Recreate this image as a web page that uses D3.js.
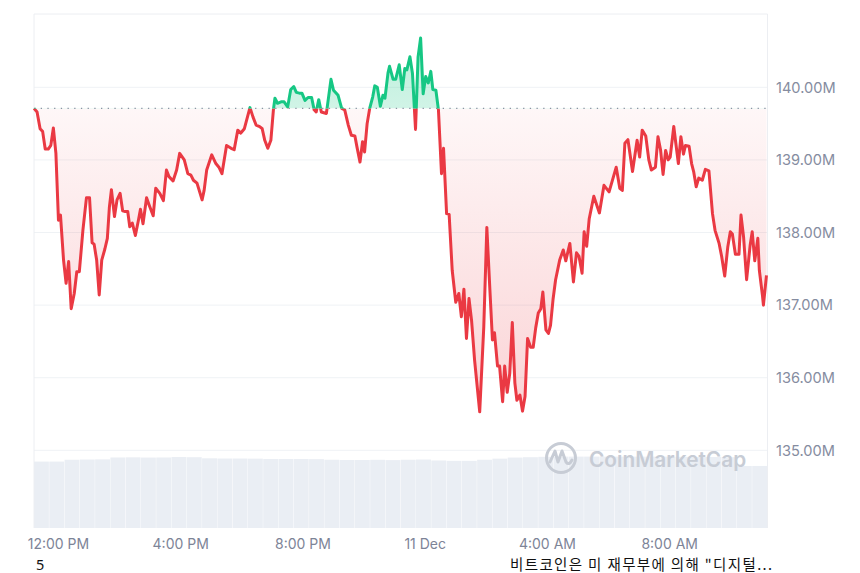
<!DOCTYPE html>
<html><head><meta charset="utf-8">
<script src="https://cdn.jsdelivr.net/npm/d3@7"></script>
<style>
body{margin:0;background:#fff;}
svg{display:block;font-family:Inter,"Noto Sans",sans-serif;}
</style>
</head><body>
<svg id="chart" width="860" height="573"></svg>
<script>
// ---------- DATA ----------
// [minutes after 10 Dec 11:13, market cap in millions]
const pricePoints = [
[0,139.71],[6,139.66],[12,139.43],[17,139.39],[22,139.15],[28,139.15],[33,139.20],[38,139.44],[43,139.09],[48,138.17],
[52,138.24],[58,137.62],[63,137.30],[68,137.60],[73,136.95],[79,137.16],[84,137.46],[89,137.46],[96,138.03],[103,138.48],
[109,138.48],[114,137.86],[118,137.84],[123,137.62],[128,137.14],[133,137.62],[139,137.77],[144,137.92],[148,138.35],[152,138.59],
[158,138.22],[163,138.45],[169,138.54],[174,138.30],[179,138.29],[184,138.29],[188,138.08],[193,138.13],[199,137.96],[205,138.17],
[209,138.32],[214,138.12],[221,138.48],[226,138.38],[234,138.23],[239,138.61],[247,138.54],[254,138.44],[260,138.86],[265,138.77],
[273,138.71],[280,138.86],[286,139.09],[295,139.00],[302,138.81],[308,138.79],[313,138.72],[320,138.68],[330,138.45],[334,138.58],
[339,138.86],[349,139.07],[357,138.95],[363,138.90],[369,138.81],[378,139.20],[387,139.16],[393,139.14],[400,139.41],[406,139.37],
[413,139.43],[419,139.59],[424,139.72],[430,139.59],[436,139.48],[443,139.46],[448,139.43],[453,139.27],[459,139.16],[465,139.27],
[470,139.69],[473,139.85],[478,139.78],[485,139.80],[491,139.80],[498,139.73],[504,139.97],[510,140.01],[515,139.93],[521,139.92],
[526,139.92],[532,139.82],[538,139.86],[545,139.86],[550,139.69],[554,139.66],[559,139.83],[564,139.66],[574,139.64],[583,140.11],
[588,139.96],[597,139.89],[604,139.71],[610,139.69],[617,139.48],[623,139.34],[630,139.33],[634,139.18],[640,138.97],[645,139.25],
[649,139.11],[654,139.50],[659,139.71],[665,139.87],[669,140.02],[674,140.00],[680,139.74],[685,139.89],[689,139.85],[695,140.20],
[698,140.29],[705,140.11],[710,140.11],[717,140.31],[723,139.97],[728,140.26],[732,140.24],[738,140.42],[743,140.19],[749,139.42],
[754,140.42],[759,140.68],[764,139.91],[769,140.15],[774,140.06],[779,140.22],[783,139.97],[789,139.96],[794,139.69],[800,138.81],
[804,139.16],[810,138.26],[815,138.25],[821,137.48],[828,137.04],[834,137.16],[839,136.84],[844,137.22],[849,136.54],[854,137.09],
[859,136.79],[865,136.24],[875,135.53],[883,136.70],[889,138.07],[895,137.21],[900,136.52],[904,136.62],[910,136.16],[914,136.16],
[920,135.67],[924,136.16],[929,135.80],[934,136.06],[939,136.76],[944,135.93],[948,135.69],[954,135.76],[959,135.54],[964,135.74],
[969,136.54],[975,136.42],[980,136.42],[985,136.69],[990,136.89],[995,136.95],[999,137.18],[1005,136.66],[1010,136.61],[1014,136.72],
[1019,137.08],[1024,137.35],[1032,137.62],[1039,137.76],[1044,137.61],[1052,137.85],[1059,137.32],[1065,137.72],[1070,137.67],[1076,137.44],
[1080,138.01],[1085,137.81],[1090,138.19],[1099,138.50],[1110,138.27],[1119,138.65],[1129,138.56],[1143,138.90],[1150,138.61],[1155,138.58],
[1160,139.23],[1166,139.28],[1175,138.84],[1184,139.27],[1189,139.04],[1194,139.41],[1201,139.33],[1207,139.00],[1212,138.86],[1220,138.90],
[1225,139.32],[1230,139.14],[1235,138.80],[1240,139.13],[1245,139.00],[1249,139.04],[1256,139.46],[1260,139.23],[1265,138.95],[1270,139.32],
[1275,139.08],[1279,139.20],[1286,139.19],[1291,138.95],[1295,138.84],[1300,138.63],[1305,138.75],[1312,138.72],[1318,138.87],[1325,138.85],
[1332,138.26],[1337,138.03],[1345,137.85],[1350,137.67],[1356,137.40],[1362,137.80],[1367,138.01],[1371,137.98],[1377,137.70],[1384,137.70],
[1388,138.24],[1393,137.94],[1399,137.35],[1406,137.83],[1410,138.01],[1415,137.61],[1421,137.92],[1424,137.48],[1430,137.14],[1432,137.00],
[1438,137.41]
];
const openValue = 139.71;
// relative volume, one value per 30 minutes
const volumes = [91,91,93.5,93.8,94,96.6,96.8,96.5,96.6,97.3,97,95.5,95.2,95.2,95,94.5,
  94.5,94.5,94.3,93.5,93.2,93.2,93.4,93,93.5,93.8,92.5,92,92,93.5,95,96.5,
  97,97.5,97.8,97.8,97.8,97.8,97.8,97.8,97.8,97.8,97.6,97.4,97.2,97,85,85];
const yTickValues = [135,136,137,138,139,140];
const xTickLabels = ["12:00 PM","4:00 PM","8:00 PM","11 Dec","4:00 AM","8:00 AM"];
const xTickHours = [12,16,20,24,28,32]; // hours after 10 Dec 00:00
const footLeft = "5";
const footRight = "비트코인은 미 재무부에 의해 \"디지털...";

// ---------- SETUP ----------
const start = new Date(2024,11,10,11,13);
const end = new Date(start.getTime()+24*3600e3);
const L=34, R=767.5, T=14, B=528;
const svg = d3.select("#chart");
const x = d3.scaleTime().domain([start,end]).range([L,R]);
const y = d3.scaleLinear().domain([133.93,141.01]).range([B,T]);
const yv = d3.scaleLinear().domain([0,100]).range([B,455]);
const data = pricePoints.map(d=>({t:new Date(start.getTime()+d[0]*60e3), v:d[1]}));
const base = y(openValue);

const defs = svg.append("defs");
defs.append("clipPath").attr("id","clipUp").append("rect").attr("x",L-2).attr("y",T-10).attr("width",R-L+4).attr("height",base-T+10);
defs.append("clipPath").attr("id","clipDown").append("rect").attr("x",L-2).attr("y",base).attr("width",R-L+4).attr("height",B-base);
const gr = defs.append("linearGradient").attr("id","gRed").attr("gradientUnits","userSpaceOnUse")
  .attr("x1",0).attr("x2",0).attr("y1",base).attr("y2",y(135.5));
gr.append("stop").attr("offset",0).attr("stop-color","#ea3943").attr("stop-opacity",0.04);
gr.append("stop").attr("offset",1).attr("stop-color","#ea3943").attr("stop-opacity",0.22);
const gg = defs.append("linearGradient").attr("id","gGreen").attr("gradientUnits","userSpaceOnUse")
  .attr("x1",0).attr("x2",0).attr("y1",y(140.7)).attr("y2",base);
gg.append("stop").attr("offset",0).attr("stop-color","#16c784").attr("stop-opacity",0.3);
gg.append("stop").attr("offset",1).attr("stop-color","#16c784").attr("stop-opacity",0.2);

// volume bars
const binW = (R-L)/volumes.length;
svg.append("g").selectAll("rect").data(volumes).join("rect")
  .attr("x",(d,i)=>L+i*binW).attr("width",binW-0.4)
  .attr("y",d=>yv(d)).attr("height",d=>B-yv(d))
  .attr("fill","#eaeef4");

// grid
svg.append("g").selectAll("line").data(yTickValues).join("line")
  .attr("x1",L).attr("x2",R).attr("y1",d=>y(d)).attr("y2",d=>y(d))
  .attr("stroke","#eff2f5").attr("stroke-width",1);
// frame
svg.append("line").attr("x1",L).attr("x2",R).attr("y1",T).attr("y2",T).attr("stroke","#eceef2");
svg.append("line").attr("x1",L).attr("x2",L).attr("y1",T).attr("y2",B).attr("stroke","#eceef2");
svg.append("line").attr("x1",R).attr("x2",R).attr("y1",T).attr("y2",B).attr("stroke","#eceef2");

// watermark
const wm = svg.append("g").attr("fill","none").attr("stroke","#c7ccd5");
wm.append("circle").attr("cx",561).attr("cy",458).attr("r",14.5).attr("stroke-width",3);
wm.append("path").attr("d","M550,462 L555,451 L558,462 L562,451 L566,462 Q569,466 572,460")
  .attr("stroke-width",3).attr("stroke-linejoin","round").attr("stroke-linecap","round");
svg.append("text").attr("x",589).attr("y",467).attr("font-size",20.8).attr("font-weight",600)
  .attr("fill","#c7ccd5").text("CoinMarketCap");

// areas
const area = d3.area().x(d=>x(d.t)).y0(base).y1(d=>y(d.v));
svg.append("path").datum(data).attr("d",area).attr("fill","url(#gRed)").attr("clip-path","url(#clipDown)");
svg.append("path").datum(data).attr("d",area).attr("fill","url(#gGreen)").attr("clip-path","url(#clipUp)");

// baseline
svg.append("line").attr("x1",L).attr("x2",R).attr("y1",base).attr("y2",base)
  .attr("stroke","#8a93a3").attr("stroke-width",1.3).attr("stroke-dasharray","1.3,5.4");

// lines
const line = d3.line().x(d=>x(d.t)).y(d=>y(d.v));
svg.append("path").datum(data).attr("d",line).attr("fill","none").attr("stroke","#ea3943")
  .attr("stroke-width",3).attr("stroke-linejoin","round").attr("clip-path","url(#clipDown)");
svg.append("path").datum(data).attr("d",line).attr("fill","none").attr("stroke","#16c784")
  .attr("stroke-width",3).attr("stroke-linejoin","round").attr("clip-path","url(#clipUp)");

// y axis
const yAxis = d3.axisRight(y).tickValues(yTickValues).tickSize(0).tickPadding(8.5)
  .tickFormat(d=>d.toFixed(2)+"M");
const gy = svg.append("g").attr("transform",`translate(${R},0)`).call(yAxis);
gy.select(".domain").remove();
gy.selectAll("text").attr("font-size",14.6).attr("fill","#858ca0").attr("font-family","Inter,sans-serif");

// x axis
const xTimes = xTickHours.map(h=>new Date(2024,11,10,h));
const xAxis = d3.axisBottom(x).tickValues(xTimes).tickSize(0).tickPadding(0)
  .tickFormat((d,i)=>xTickLabels[i]);
const gx = svg.append("g").attr("transform",`translate(0,${B+11.5})`).call(xAxis);
gx.select(".domain").remove();
gx.selectAll("text").attr("font-size",14).attr("fill","#7d8497").attr("font-family","Inter,sans-serif");

// footer texts
svg.append("text").attr("x",36).attr("y",570).attr("font-size",14.5).attr("fill","#111")
  .attr("font-family","'Noto Sans',sans-serif").text(footLeft);
svg.append("text").attr("x",510).attr("y",569.5).attr("font-size",14.5).attr("fill","#111")
  .attr("textLength",262).attr("lengthAdjust","spacing")
  .attr("font-family","'Noto Sans CJK KR',sans-serif").text(footRight);
</script>
</body></html>
